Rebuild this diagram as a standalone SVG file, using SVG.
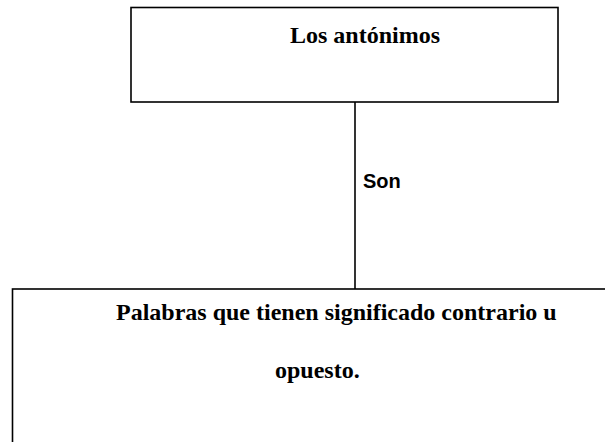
<svg xmlns="http://www.w3.org/2000/svg" width="605" height="442" viewBox="0 0 605 442">
<style>
.box{fill:#fff;stroke:#000;stroke-width:1.6}
.t{font-family:"Liberation Serif","Times New Roman",serif;font-weight:bold;font-size:24px;fill:#000}
.lbl{font-family:"Liberation Sans",Arial,sans-serif;font-weight:bold;font-size:20px;fill:#000}
.edge{stroke:#000;stroke-width:1.6;fill:none}
</style>
<rect width="605" height="442" fill="#fff"/>
<g id="connectors">
<line class="edge" x1="355" y1="102" x2="355" y2="289"/>
<text class="lbl" x="363" y="188">Son</text>
</g>
<g id="node-antonimos">
<rect class="box" x="131" y="7.5" width="427" height="94.5"/>
<text class="t" x="290" y="43">Los antónimos</text>
</g>
<g id="node-palabras">
<rect class="box" x="12.5" y="289" width="600" height="170"/>
<text class="t" x="116" y="320">Palabras que tienen significado contrario u</text>
<text class="t" x="275" y="378">opuesto.</text>
</g>
</svg>
